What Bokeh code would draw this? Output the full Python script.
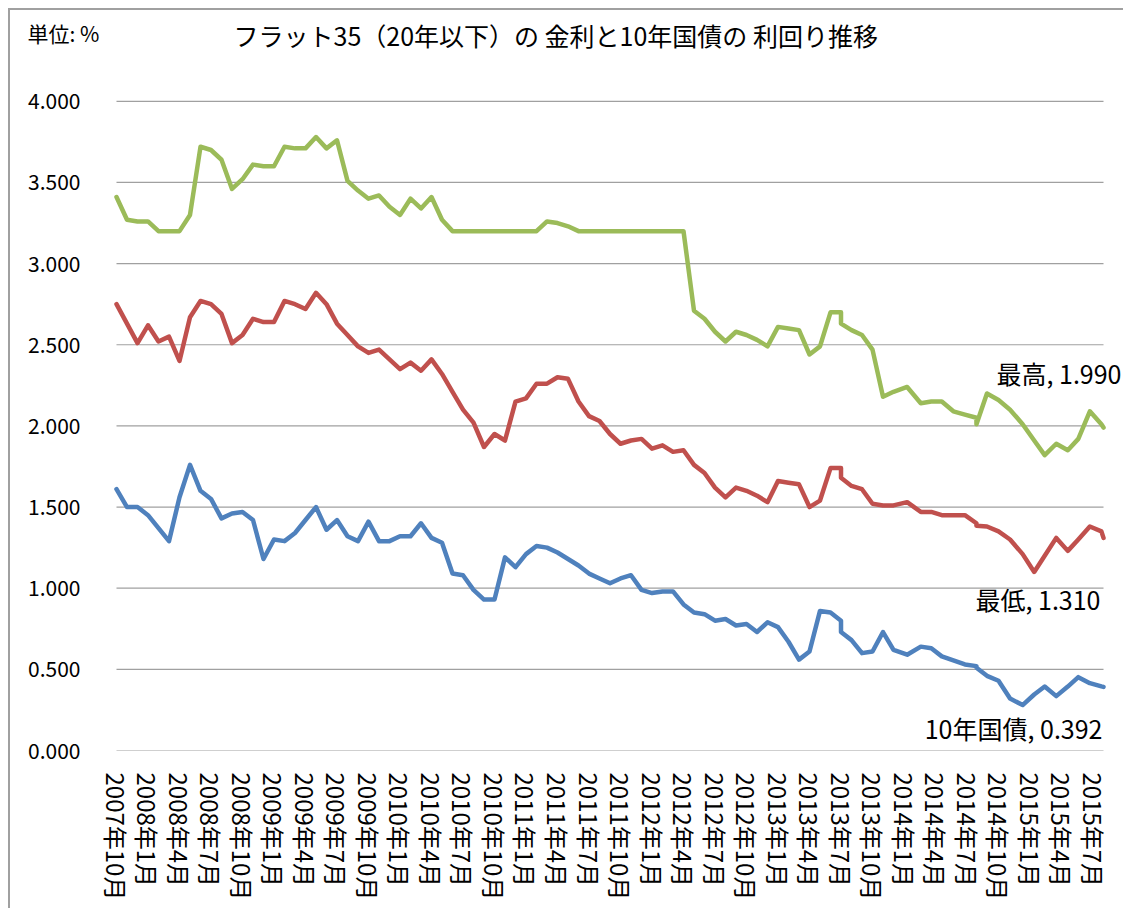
from bokeh.plotting import figure
from bokeh.models import Range1d, FixedTicker, Label, NumeralTickFormatter
from bokeh.embed import file_html
from bokeh.resources import INLINE

# ---- data ----
DATES = [
    "2007-10-01", "2007-11-01", "2007-12-01", "2008-01-01", "2008-02-01", "2008-03-01",
    "2008-04-01", "2008-05-01", "2008-06-01", "2008-07-01", "2008-08-01", "2008-09-01",
    "2008-10-01", "2008-11-01", "2008-12-01", "2009-01-01", "2009-02-01", "2009-03-01",
    "2009-04-01", "2009-05-01", "2009-06-01", "2009-07-01", "2009-08-01", "2009-09-01",
    "2009-10-01", "2009-11-01", "2009-12-01", "2010-01-01", "2010-02-01", "2010-03-01",
    "2010-04-01", "2010-05-01", "2010-06-01", "2010-07-01", "2010-08-01", "2010-09-01",
    "2010-10-01", "2010-11-01", "2010-12-01", "2011-01-01", "2011-02-01", "2011-03-01",
    "2011-04-01", "2011-05-01", "2011-06-01", "2011-07-01", "2011-08-01", "2011-09-01",
    "2011-10-01", "2011-11-01", "2011-12-01", "2012-01-01", "2012-02-01", "2012-03-01",
    "2012-04-01", "2012-05-01", "2012-06-01", "2012-07-01", "2012-08-01", "2012-09-01",
    "2012-10-01", "2012-11-01", "2012-12-01", "2013-01-01", "2013-02-01", "2013-03-01",
    "2013-04-01", "2013-05-01", "2013-06-01", "2013-07-01", "2013-07-01", "2013-08-01",
    "2013-09-01", "2013-10-01", "2013-11-01", "2013-12-01", "2014-01-10", "2014-02-19",
    "2014-03-19", "2014-04-19", "2014-05-22", "2014-06-25", "2014-07-28", "2014-07-28",
    "2014-08-28", "2014-10-01", "2014-11-04", "2014-12-10", "2015-01-13", "2015-02-13",
    "2015-03-16", "2015-04-19", "2015-05-19", "2015-06-22", "2015-07-25", "2015-08-01",
]

FLAT35_MAX = [
    3.41, 3.27, 3.26, 3.26, 3.20, 3.20,
    3.20, 3.30, 3.72, 3.70, 3.64, 3.46,
    3.52, 3.61, 3.60, 3.60, 3.72, 3.71,
    3.71, 3.78, 3.71, 3.76, 3.51, 3.45,
    3.40, 3.42, 3.35, 3.30, 3.40, 3.34,
    3.41, 3.27, 3.20, 3.20, 3.20, 3.20,
    3.20, 3.20, 3.20, 3.20, 3.20, 3.26,
    3.25, 3.23, 3.20, 3.20, 3.20, 3.20,
    3.20, 3.20, 3.20, 3.20, 3.20, 3.20,
    3.20, 2.71, 2.66, 2.58, 2.52, 2.58,
    2.56, 2.53, 2.49, 2.61, 2.60, 2.59,
    2.44, 2.49, 2.70, 2.70, 2.63, 2.59,
    2.56, 2.47, 2.18, 2.21, 2.24, 2.14,
    2.15, 2.15, 2.09, 2.07, 2.05, 2.01,
    2.20, 2.16, 2.10, 2.01, 1.91, 1.82,
    1.89, 1.85, 1.92, 2.09, 2.01, 1.99,
]

FLAT35_MIN = [
    2.75, 2.63, 2.51, 2.62, 2.52, 2.55,
    2.40, 2.67, 2.77, 2.75, 2.69, 2.51,
    2.56, 2.66, 2.64, 2.64, 2.77, 2.75,
    2.72, 2.82, 2.75, 2.63, 2.56, 2.49,
    2.45, 2.47, 2.41, 2.35, 2.39, 2.34,
    2.41, 2.32, 2.21, 2.10, 2.02, 1.87,
    1.95, 1.91, 2.15, 2.17, 2.26, 2.26,
    2.30, 2.29, 2.15, 2.06, 2.03, 1.95,
    1.89, 1.91, 1.92, 1.86, 1.88, 1.84,
    1.85, 1.76, 1.71, 1.62, 1.56, 1.62,
    1.60, 1.57, 1.53, 1.66, 1.65, 1.64,
    1.50, 1.54, 1.74, 1.74, 1.68, 1.63,
    1.61, 1.52, 1.51, 1.51, 1.53, 1.47,
    1.47, 1.45, 1.45, 1.45, 1.40, 1.385,
    1.38, 1.35, 1.30, 1.21, 1.10, 1.20,
    1.31, 1.23, 1.30, 1.38, 1.35, 1.31,
]

JGB10 = [
    1.61, 1.50, 1.50, 1.45, 1.37, 1.29,
    1.56, 1.76, 1.60, 1.55, 1.43, 1.46,
    1.47, 1.42, 1.18, 1.30, 1.29, 1.34,
    1.42, 1.50, 1.36, 1.42, 1.32, 1.29,
    1.41, 1.29, 1.29, 1.32, 1.32, 1.40,
    1.31, 1.28, 1.09, 1.08, 0.99, 0.93,
    0.93, 1.19, 1.13, 1.21, 1.26, 1.25,
    1.22, 1.18, 1.14, 1.09, 1.06, 1.03,
    1.06, 1.08, 0.99, 0.97, 0.98, 0.98,
    0.90, 0.85, 0.84, 0.80, 0.81, 0.77,
    0.78, 0.73, 0.79, 0.76, 0.67, 0.56,
    0.61, 0.86, 0.85, 0.80, 0.73, 0.68,
    0.60, 0.61, 0.73, 0.62, 0.59, 0.64,
    0.63, 0.58, 0.555, 0.53, 0.52, 0.51,
    0.46, 0.43, 0.32, 0.28, 0.345, 0.394,
    0.335, 0.394, 0.452, 0.415, 0.395, 0.392,
]

Y_TICKS = [0, 0.5, 1, 1.5, 2, 2.5, 3, 3.5, 4]
TICK_MONTHS = list(range(0, 94, 3))  # every 3 months from 2007年10月
TITLE = "フラット35（20年以下）の 金利と10年国債の 利回り推移"
UNIT = "単位: %"
END_LABELS = ["最高, 1.990", "最低, 1.310", "10年国債, 0.392"]

FONT = "Noto Sans CJK JP"


def month_pos(s):
    y, m, d = (int(v) for v in s.split("-"))
    return (y - 2007) * 12 + (m - 10) + (d - 1) / 30.0


def tick_label(k):
    y = 2007 + (9 + k) // 12
    m = (9 + k) % 12 + 1
    return f"{y}年{m}月"


xs = [month_pos(s) for s in DATES]

# frame covers the whole chart area (so the texts are not clipped)
p = figure(width=1115, height=900, output_backend="svg", toolbar_location=None,
           x_range=Range1d(-10.095, 96.095), y_range=Range1d(0, 4.5595),
           min_border_left=0, min_border_right=0, min_border_top=0, min_border_bottom=160)
p.title = None
p.outline_line_color = None
p.background_fill_color = "white"
p.border_fill_color = "white"
p.styles = {"margin-left": "8px", "margin-top": "8px",
            "border-left": "2px solid #a0a0a0", "border-top": "2px solid #a0a0a0"}

p.xgrid.visible = False
p.ygrid.visible = False

# horizontal gridlines only across the data span
n = len(Y_TICKS)
p.segment(x0=[xs[0]] * n, x1=[xs[-1]] * n, y0=Y_TICKS, y1=Y_TICKS,
          line_color="#a0a0a0", line_width=1.2)

yax = p.yaxis[0]
yax.ticker = FixedTicker(ticks=Y_TICKS)
yax.formatter = NumeralTickFormatter(format="0.000")
yax.axis_line_color = None
yax.major_tick_line_color = None
yax.minor_tick_line_color = None
yax.major_tick_out = 0
yax.major_tick_in = 0
yax.major_label_standoff = -70
yax.major_label_text_font = FONT
yax.major_label_text_font_size = "21px"
yax.major_label_text_color = "black"

xax = p.xaxis[0]
xax.ticker = FixedTicker(ticks=TICK_MONTHS)
xax.major_label_overrides = {k: tick_label(k) for k in TICK_MONTHS}
xax.major_label_orientation = "vertical"
xax.axis_line_color = None
xax.major_tick_line_color = None
xax.minor_tick_line_color = None
xax.major_tick_out = 0
xax.major_tick_in = 0
xax.major_label_standoff = 22
xax.major_label_text_font = FONT
xax.major_label_text_font_size = "24px"
xax.major_label_text_color = "black"

for ys, col in [(JGB10, "#4F81BD"), (FLAT35_MIN, "#C0504D"), (FLAT35_MAX, "#9BBB59")]:
    p.line(xs, ys, line_color=col, line_width=4.5, line_join="round", line_cap="round")


def add_label(text, x, y, align, size):
    p.add_layout(Label(x=x, y=y, x_units="screen", y_units="screen", text=text,
                       text_font=FONT, text_font_size=size, text_color="black",
                       text_align=align, text_baseline="middle"))


add_label(UNIT, 17, 718, "left", "21px")
add_label(TITLE, 223, 716, "left", "25px")
add_label(END_LABELS[0], 1111, 378, "right", "25px")
add_label(END_LABELS[1], 1090, 152, "right", "25px")
add_label(END_LABELS[2], 1092, 23, "right", "25px")

open("out.html", "w").write(file_html(p, INLINE))
